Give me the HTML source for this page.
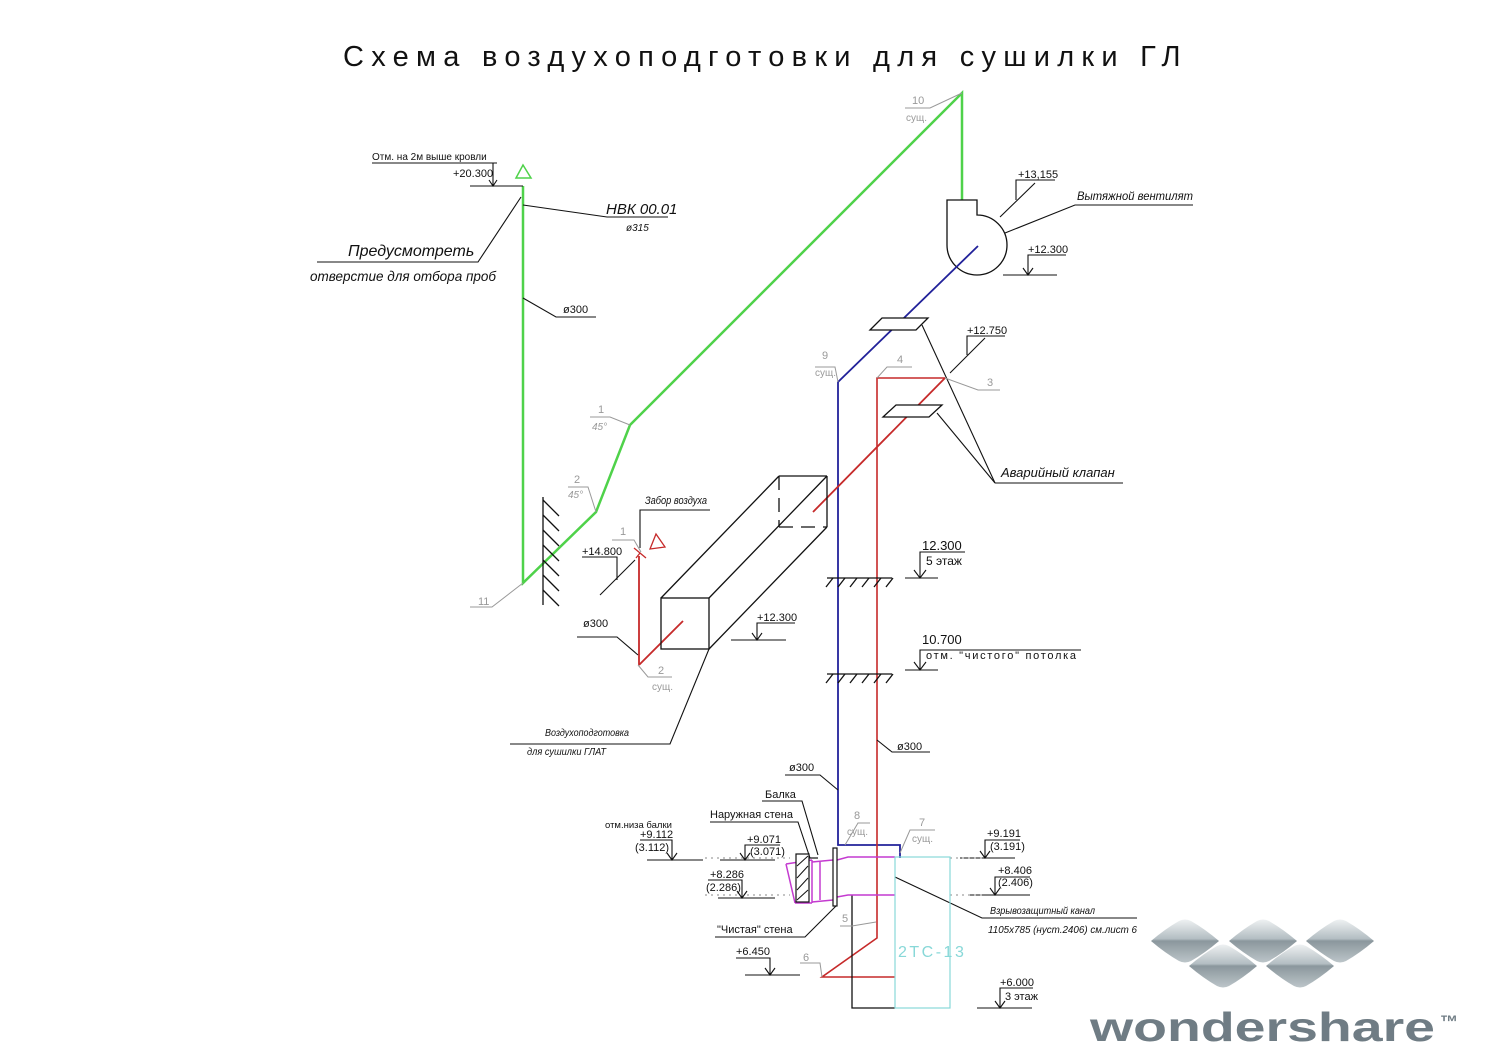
<!DOCTYPE html>
<html><head><meta charset="utf-8"><style>
html,body{margin:0;padding:0;background:#fff;}
svg{display:block}
text{font-family:"Liberation Sans","DejaVu Sans",sans-serif;fill:#111}
.i{font-style:italic}
.g{fill:#999}
</style></head><body>
<svg width="1500" height="1060" viewBox="0 0 1500 1060" xmlns="http://www.w3.org/2000/svg">
<defs>
<linearGradient id="dg" x1="0" y1="0" x2="0" y2="1">
<stop offset="0" stop-color="#eef1f2"/><stop offset="0.45" stop-color="#b3bdc2"/><stop offset="0.5" stop-color="#8b979d"/><stop offset="1" stop-color="#bcc5c9"/>
</linearGradient>
<g id="dia"><path d="M-34,0 Q-20,-12 -6,-20 Q0,-23 6,-20 Q20,-12 34,0 Q20,12 6,20 Q0,23 -6,20 Q-20,12 -34,0Z" fill="url(#dg)"/></g>
</defs>

<text x="343" y="66" font-size="29" letter-spacing="7.5" fill="#222" textLength="845" lengthAdjust="spacing">Схема воздухоподготовки для сушилки ГЛ</text>

<polyline points="523,186 523,583 596,512 630,425 962,93 962,200" fill="none" stroke="#4fd24a" stroke-width="2.5"/>
<path d="M516,178 L523,165 L531,178Z" fill="none" stroke="#4fd24a" stroke-width="1.5"/>

<path d="M947,200 L977,200 L977,215 A30,30 0 1 1 947,245 Z" fill="none" stroke="#111" stroke-width="1.3"/>
<polyline points="978,246 838,382 838,845 900,845 900,858" fill="none" stroke="#22229a" stroke-width="1.8"/>
<polyline points="945,378 877,378 877,938 822,977 895,977" fill="none" stroke="#c62a2a" stroke-width="1.6"/>
<line x1="945" y1="378" x2="813" y2="512" stroke="#c62a2a" stroke-width="1.8"/>
<line x1="683" y1="621" x2="639" y2="665" stroke="#c62a2a" stroke-width="1.8"/>
<line x1="639" y1="556" x2="639" y2="665" stroke="#c62a2a" stroke-width="1.8"/>
<path d="M650,549 L656,534 L665,547Z" fill="none" stroke="#c62a2a" stroke-width="1.3"/>
<path d="M634,548 L640,553 L646,558 M640,553 L636,558" stroke="#c62a2a" stroke-width="1.3" fill="none"/>

<polyline points="852,895 852,1008 895,1008" fill="none" stroke="#111" stroke-width="1.3"/>

<g stroke="#111" stroke-width="1.3" fill="none">
<rect x="661" y="598" width="48" height="51"/>
<line x1="661" y1="598" x2="779" y2="476"/>
<line x1="709" y1="598" x2="827" y2="476"/>
<line x1="709" y1="649" x2="827" y2="527"/>
<line x1="779" y1="476" x2="827" y2="476"/>
<line x1="827" y1="476" x2="827" y2="527"/>
<line x1="779" y1="476" x2="779" y2="527" stroke-dasharray="14,8"/>
<line x1="779" y1="527" x2="827" y2="527" stroke-dasharray="14,8"/>
</g>

<g stroke="#111" stroke-width="1.3" fill="#fff">
<path d="M870,330 L882,318 L928,318 L916,330Z"/>
<path d="M883,417 L896,405 L942,405 L929,417Z"/>
</g>
<g stroke="#111" stroke-width="1.1" fill="none">
<line x1="922" y1="325" x2="995" y2="483"/>
<line x1="937" y1="413" x2="995" y2="483"/>
<line x1="995" y1="483" x2="1123" y2="483"/>
</g>
<text x="1001" y="477" font-size="13" class="i">Аварийный клапан</text>

<g stroke="#111" stroke-width="1.3">
<line x1="827" y1="578" x2="892" y2="578"/>
<line x1="827" y1="674" x2="892" y2="674"/>
<path d="M833,578 l-7,9 M845,578 l-7,9 M857,578 l-7,9 M869,578 l-7,9 M881,578 l-7,9 M893,578 l-7,9
M833,674 l-7,9 M845,674 l-7,9 M857,674 l-7,9 M869,674 l-7,9 M881,674 l-7,9 M893,674 l-7,9"/>
</g>

<g stroke="#111" stroke-width="1.3">
<line x1="543" y1="497" x2="543" y2="605"/>
<path d="M543,500 l16,16 M543,515 l16,16 M543,530 l16,16 M543,545 l16,16 M543,560 l16,16 M543,575 l16,16 M543,590 l16,16"/>
</g>

<g stroke="#111" stroke-width="1.1" fill="none">
<polyline points="372,163 497,163 493,163 493,186"/>
<line x1="470" y1="186" x2="523" y2="186"/>
<path d="M489,180 L493,186 L497,180"/>
<polyline points="523,205 607,217 668,217"/>
<polyline points="521,197 478,262 317,262"/>
<polyline points="523,298 556,317 596,317"/>
<polyline points="1005,233 1075,205 1193,205"/>
<polyline points="1055,180 1016,180 1016,200"/>
<line x1="1000" y1="217" x2="1035" y2="183"/>
<polyline points="1066,255 1028,255 1028,275"/>
<line x1="1003" y1="275" x2="1057" y2="275"/>
<path d="M1023,268 L1028,275 L1033,268"/>
<polyline points="1005,336 967,336 967,355"/>
<line x1="950" y1="373" x2="985" y2="338"/>
<polyline points="582,557 617,557 617,580"/>
<line x1="600" y1="595" x2="635" y2="560"/>
<polyline points="710,510 640,510 640,548"/>
<polyline points="577,637 617,637 638,655"/>
<polyline points="795,623 757,623 757,640"/>
<line x1="731" y1="640" x2="786" y2="640"/>
<path d="M752,633 L757,640 L762,633"/>
<polyline points="709,649 670,744 510,744"/>
<polyline points="965,552 920,552 920,578"/>
<line x1="905" y1="578" x2="938" y2="578"/>
<path d="M914,570 L920,578 L926,570"/>
<polyline points="1081,650 920,650 920,670"/>
<line x1="905" y1="670" x2="938" y2="670"/>
<path d="M914,662 L920,670 L926,662"/>
<polyline points="877,740 892,752 930,752"/>
<polyline points="785,775 820,775 838,790"/>
<polyline points="762,801 802,801 818,855"/>
<polyline points="710,822 798,822 810,858"/>
<polyline points="715,937 805,937 837,905"/>
<polyline points="895,877 982,918 1137,918"/>
<polyline points="640,840 672,840 672,860"/>
<line x1="647" y1="860" x2="703" y2="860"/>
<path d="M667,853 L672,860 L677,853"/>
<polyline points="780,845 745,845 745,860"/>
<line x1="720" y1="860" x2="775" y2="860"/>
<path d="M740,853 L745,860 L750,853"/>
<polyline points="708,880 742,880 742,898"/>
<line x1="718" y1="898" x2="775" y2="898"/>
<path d="M737,891 L742,898 L747,891"/>
<polyline points="1020,840 985,840 985,858"/>
<line x1="960" y1="858" x2="1015" y2="858"/>
<path d="M980,851 L985,858 L990,851"/>
<polyline points="1030,877 995,877 995,895"/>
<line x1="970" y1="895" x2="1030" y2="895"/>
<path d="M990,888 L995,895 L1000,888"/>
<polyline points="736,958 770,958 770,975"/>
<line x1="745" y1="975" x2="800" y2="975"/>
<path d="M765,968 L770,975 L775,968"/>
<polyline points="1033,988 1000,988 1000,1008"/>
<line x1="977" y1="1008" x2="1032" y2="1008"/>
<path d="M995,1001 L1000,1008 L1005,1001"/>
</g>

<g stroke="#999" stroke-width="1" fill="none">
<polyline points="630,425 610,417 590,417"/>
<polyline points="596,512 588,487 568,487"/>
<polyline points="523,583 492,607 470,607"/>
<polyline points="641,552 634,540 612,540"/>
<polyline points="638,665 648,677 672,677"/>
<polyline points="945,378 978,390 1000,390"/>
<polyline points="877,378 887,367 912,367"/>
<polyline points="838,382 835,367 815,367"/>
<polyline points="962,93 930,108 905,108"/>
<polyline points="845,845 858,823 870,823"/>
<polyline points="900,853 910,830 935,830"/>
<polyline points="876,922 852,926 840,926"/>
<polyline points="822,977 820,963 800,963"/>
</g>

<g stroke="#888" stroke-width="1" stroke-dasharray="2,4">
<line x1="705" y1="858" x2="790" y2="858"/><line x1="950" y1="858" x2="985" y2="858"/>
<line x1="705" y1="895" x2="790" y2="895"/><line x1="950" y1="895" x2="985" y2="895"/>
</g>

<g stroke="#c43ad0" stroke-width="1.5" fill="none">
<polyline points="895,857 848,857 837,860"/>
<polyline points="895,895 848,895 837,897"/>
<path d="M786,864 L812,860 M812,860 L812,903 M795,903 L812,903 M786,864 L795,903"/>
<line x1="820" y1="862" x2="820" y2="900"/>
<line x1="812" y1="862" x2="833" y2="860"/><line x1="812" y1="902" x2="833" y2="900"/>
</g>
<g stroke="#111" stroke-width="1.2" fill="#fff">
<rect x="796" y="854" width="13" height="48"/>
<rect x="833" y="848" width="4" height="58"/>
</g>
<path d="M797,866 L808,856 M797,878 L808,866 M797,890 L808,878 M797,900 L808,890" stroke="#111" stroke-width="1"/>
<line x1="809" y1="858" x2="818" y2="858" stroke="#111" stroke-width="1.2"/>

<rect x="895" y="857" width="55" height="151" fill="none" stroke="#88d8d8" stroke-width="1.2"/>
<text x="898" y="957" font-size="16" letter-spacing="2.5" style="fill:#88d8d8">2ТС-13</text>

<text x="372" y="160" font-size="10">Отм. на 2м выше кровли</text>
<text x="453" y="177" font-size="11">+20.300</text>
<text x="606" y="214" font-size="15" class="i">НВК 00.01</text>
<text x="626" y="231" font-size="10" class="i">ø315</text>
<text x="348" y="256" font-size="16" class="i">Предусмотреть</text>
<text x="310" y="281" font-size="14" class="i" textLength="186" lengthAdjust="spacingAndGlyphs">отверстие для отбора проб</text>
<text x="563" y="313" font-size="11">ø300</text>
<text x="1077" y="200" font-size="12" class="i" textLength="116" lengthAdjust="spacingAndGlyphs">Вытяжной вентилят</text>
<text x="1018" y="178" font-size="11">+13,155</text>
<text x="1028" y="253" font-size="11">+12.300</text>
<text x="967" y="334" font-size="11">+12.750</text>
<text x="582" y="555" font-size="11">+14.800</text>
<text x="645" y="504" font-size="11" class="i" textLength="62" lengthAdjust="spacingAndGlyphs">Забор воздуха</text>
<text x="583" y="627" font-size="11">ø300</text>
<text x="757" y="621" font-size="11">+12.300</text>
<text x="922" y="550" font-size="13">12.300</text>
<text x="926" y="565" font-size="12">5 этаж</text>
<text x="922" y="644" font-size="13">10.700</text>
<text x="926" y="659" font-size="11" textLength="150" lengthAdjust="spacing">отм. "чистого" потолка</text>
<text x="545" y="736" font-size="10" class="i" textLength="84" lengthAdjust="spacingAndGlyphs">Воздухоподготовка</text>
<text x="527" y="755" font-size="10" class="i" textLength="79" lengthAdjust="spacingAndGlyphs">для сушилки ГЛАТ</text>
<text x="897" y="750" font-size="11">ø300</text>
<text x="789" y="771" font-size="11">ø300</text>
<text x="765" y="798" font-size="11">Балка</text>
<text x="710" y="818" font-size="11">Наружная стена</text>
<text x="605" y="828" font-size="9.5">отм.низа балки</text>
<text x="640" y="838" font-size="11">+9.112</text>
<text x="635" y="851" font-size="11">(3.112)</text>
<text x="747" y="843" font-size="11">+9.071</text>
<text x="750" y="855" font-size="11">(3.071)</text>
<text x="710" y="878" font-size="11">+8.286</text>
<text x="706" y="891" font-size="11">(2.286)</text>
<text x="987" y="837" font-size="11">+9.191</text>
<text x="990" y="850" font-size="11">(3.191)</text>
<text x="998" y="874" font-size="11">+8.406</text>
<text x="998" y="886" font-size="11">(2.406)</text>
<text x="990" y="914" font-size="10" class="i" textLength="105" lengthAdjust="spacingAndGlyphs">Взрывозащитный канал</text>
<text x="988" y="933" font-size="10" class="i" textLength="149" lengthAdjust="spacingAndGlyphs">1105x785 (нуст.2406) см.лист 6</text>
<text x="717" y="933" font-size="11">"Чистая" стена</text>
<text x="736" y="955" font-size="11">+6.450</text>
<text x="1000" y="986" font-size="11">+6.000</text>
<text x="1005" y="1000" font-size="11">3 этаж</text>

<g font-size="11" class="g">
<text x="598" y="413" class="g">1</text><text x="592" y="430" class="g i" font-size="10">45°</text>
<text x="574" y="483" class="g">2</text><text x="568" y="498" class="g i" font-size="10">45°</text>
<text x="478" y="605" class="g">11</text>
<text x="620" y="535" class="g">1</text>
<text x="658" y="674" class="g">2</text><text x="652" y="690" class="g" font-size="10">сущ.</text>
<text x="987" y="386" class="g">3</text>
<text x="897" y="363" class="g">4</text>
<text x="822" y="359" class="g">9</text><text x="815" y="376" class="g" font-size="10">сущ.</text>
<text x="912" y="104" class="g">10</text><text x="906" y="121" class="g" font-size="10">сущ.</text>
<text x="854" y="819" class="g">8</text><text x="847" y="835" class="g" font-size="10">сущ.</text>
<text x="919" y="826" class="g">7</text><text x="912" y="842" class="g" font-size="10">сущ.</text>
<text x="842" y="922" class="g">5</text>
<text x="803" y="961" class="g">6</text>
</g>

<use href="#dia" x="1185" y="941"/>
<use href="#dia" x="1263" y="941"/>
<use href="#dia" x="1340" y="941"/>
<use href="#dia" x="1223" y="966"/>
<use href="#dia" x="1300" y="966"/>
<text x="1090" y="1041" font-size="41" font-weight="bold" textLength="345" lengthAdjust="spacingAndGlyphs" style="fill:#6f7c84">wondershare</text>
<text x="1440" y="1028" font-size="18" font-weight="bold" style="fill:#6f7c84">™</text>
</svg>
</body></html>
